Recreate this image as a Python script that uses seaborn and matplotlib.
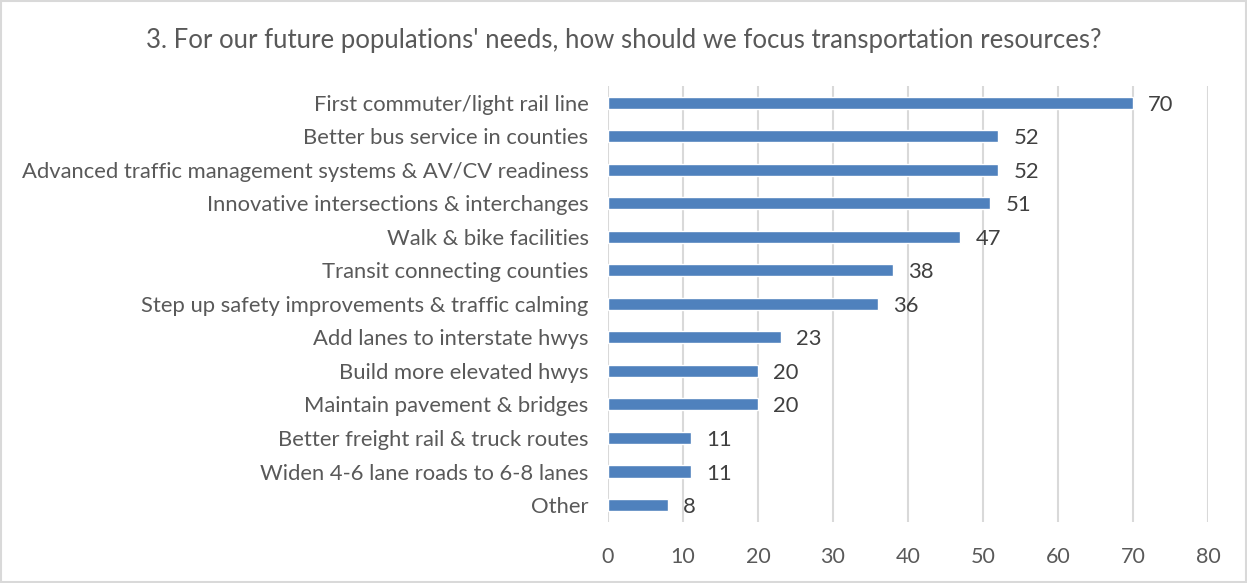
import matplotlib
matplotlib.use("Agg")
import matplotlib.pyplot as plt
import seaborn as sns
import pandas as pd

categories = [
    "First commuter/light rail line",
    "Better bus service in counties",
    "Advanced traffic management systems & AV/CV readiness",
    "Innovative intersections & interchanges",
    "Walk & bike facilities",
    "Transit connecting counties",
    "Step up safety improvements & traffic calming",
    "Add lanes to interstate hwys",
    "Build more elevated hwys",
    "Maintain pavement & bridges",
    "Better freight rail & truck routes",
    "Widen 4-6 lane roads to 6-8 lanes",
    "Other",
]
values = [70, 52, 52, 51, 47, 38, 36, 23, 20, 20, 11, 11, 8]
x_ticks = [0, 10, 20, 30, 40, 50, 60, 70, 80]
title = "3. For our future populations' needs, how should we focus transportation resources?"

df = pd.DataFrame({"category": categories, "value": values})

sns.set_theme(style="white")
plt.rcParams["font.family"] = ["Lato", "DejaVu Sans"]
text_color = "#595959"

fig = plt.figure(figsize=(12.47, 5.83), dpi=100)
ax = fig.add_axes([0.4876, 0.105, 0.4811, 0.7475])

sns.barplot(data=df, y="category", x="value", orient="h", color="#4F81BD",
            saturation=1, width=0.36, ax=ax)

ax.set_xlim(0, 80)
ax.set_ylim(12.5, -0.5)
ax.set_xticks(x_ticks)
ax.xaxis.grid(True, color="#D9D9D9", linewidth=1.5)
ax.set_axisbelow(True)
for s in ax.spines.values():
    s.set_visible(False)
ax.set_xlabel("")
ax.set_ylabel("")
ax.tick_params(axis="x", colors=text_color, labelsize=15.5, length=0, pad=18)
ax.tick_params(axis="y", colors=text_color, labelsize=15.8, length=0, pad=14)

for c in ax.containers:
    labels = ax.bar_label(c, padding=11, fontsize=15.8, color="#404040")
    for t in labels:
        t.set_va("center_baseline")

fig.text(0.5, 0.93, title, ha="center", va="center", fontsize=18.5, color=text_color)

fig.patches.append(matplotlib.patches.Rectangle((0.0008, 0.0017), 0.9984, 0.9966,
                   transform=fig.transFigure, fill=False, edgecolor="#D9D9D9", linewidth=1.5))

fig.savefig("out.png", dpi=100, facecolor="white")
